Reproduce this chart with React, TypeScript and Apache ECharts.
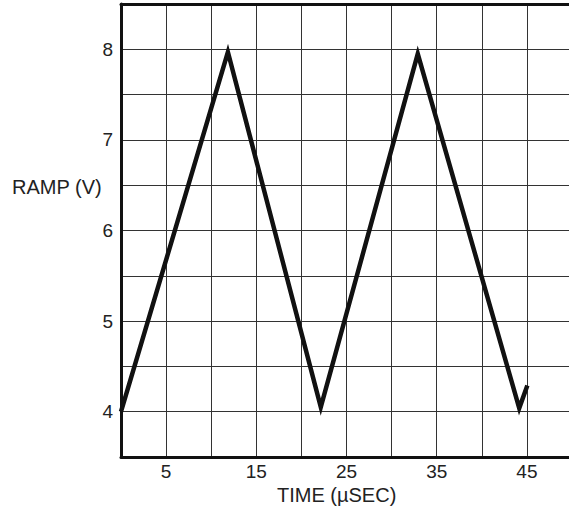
import React, { useEffect, useRef } from "react";
import * as echarts from "echarts";

const timeValues = [0, 11.85, 22.15, 32.9, 44.15, 45.05];
const rampValues = [4.0, 7.97, 4.05, 7.95, 4.04, 4.29];
const xTickLabels = [5, 15, 25, 35, 45];
const yTickLabels = [4, 5, 6, 7, 8];

const FONT = "'Liberation Sans', Arial, Helvetica, sans-serif";

export default function App() {
  const ref = useRef<HTMLDivElement>(null);
  useEffect(() => {
    if (!ref.current) return;
    const chart = echarts.init(ref.current, undefined, { renderer: "svg" });
    chart.setOption({
      animation: false,
      backgroundColor: "#fff",
      grid: { left: 121, top: 4, right: 8, bottom: 54 },
      xAxis: [
        {
          type: "value",
          min: 0,
          max: 50,
          interval: 5,
          axisLine: { show: true, lineStyle: { color: "#111", width: 3 } },
          axisTick: { show: false },
          axisLabel: {
            margin: 5,
            fontSize: 19,
            color: "#222",
            fontFamily: FONT,
            formatter: (v: number) => (xTickLabels.includes(v) ? String(v) : ""),
          },
          splitLine: { show: true, lineStyle: { color: "#333", width: 1 } },
        },
        {
          type: "value",
          position: "top",
          min: 0,
          max: 50,
          interval: 5,
          axisLine: { show: true, lineStyle: { color: "#111", width: 3 } },
          axisTick: { show: false },
          axisLabel: { show: false },
          splitLine: { show: false },
        },
      ],
      yAxis: {
        type: "value",
        min: 3.5,
        max: 8.5,
        interval: 0.5,
        axisLine: { show: true, lineStyle: { color: "#111", width: 3 } },
        axisTick: { show: false },
        axisLabel: {
          margin: 8,
          fontSize: 19,
          color: "#222",
          fontFamily: FONT,
          formatter: (v: number) => (yTickLabels.includes(v) ? String(v) : ""),
        },
        splitLine: { show: true, lineStyle: { color: "#333", width: 1 } },
      },
      graphic: [
        {
          type: "text",
          left: 12,
          top: 177,
          style: { text: "RAMP (V)", fontSize: 20, fill: "#222", fontFamily: FONT },
        },
        {
          type: "text",
          left: 277,
          top: 485,
          style: { text: "TIME (µSEC)", fontSize: 20, fill: "#222", fontFamily: FONT },
        },
      ],
      series: [
        {
          type: "line",
          data: timeValues.map((t, i) => [t, rampValues[i]]),
          symbol: "none",
          lineStyle: { color: "#111", width: 4.5, join: "miter", cap: "butt" },
          z: 5,
        },
      ],
    });
    return () => chart.dispose();
  }, []);
  return (
    <div
      style={{
        position: "absolute",
        left: 0,
        top: 0,
        width: 569,
        height: 511,
        overflow: "hidden",
      }}
    >
      <div ref={ref} style={{ width: 580, height: 511 }} />
    </div>
  );
}
